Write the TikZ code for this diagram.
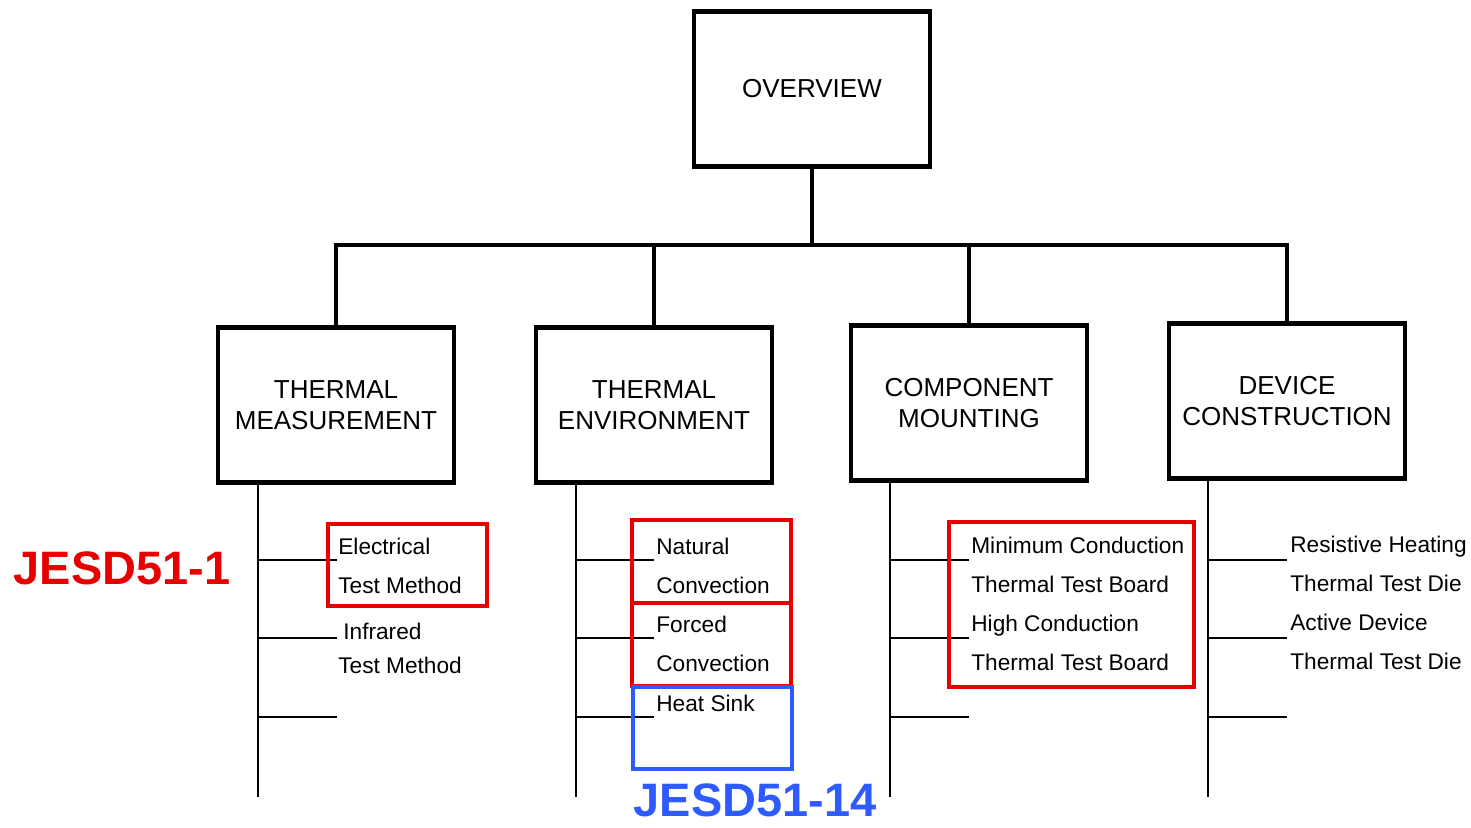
\documentclass[tikz,border=0pt]{standalone}
\usepackage{fontspec}
\setmainfont{Liberation Sans}
\usepackage{xcolor}
\usetikzlibrary{positioning,calc}
\definecolor{MarkRed}{HTML}{E60000}
\definecolor{MarkBlue}{HTML}{2D5BFF}
\tikzset{
  topic/.style={draw=black, line width=2.3pt, minimum width=4.72cm, minimum height=3.1cm, align=center, inner sep=4pt, font=\fontsize{14.8}{17.6}\selectfont},
  leaf/.style={anchor=west, align=left, inner sep=0pt, font=\fontsize{12.9}{22.2}\selectfont},
  trunk/.style={line width=2.3pt, draw=black},
  spine/.style={line width=0.9pt, draw=black},
  twig/.style={line width=0.8pt, draw=black},
  redmark/.style={draw=MarkRed, line width=2.3pt},
  bluemark/.style={draw=MarkBlue, line width=2.3pt},
  tag/.style={inner sep=0pt, font=\fontsize{26.7}{30}\selectfont\bfseries}
}

\begin{document}
\begin{tikzpicture}[x=0.02cm, y=-0.02cm]
\useasboundingbox (0,0) rectangle (1471,828);

% top of the tree
\node[topic] (overview) at (812,89) {OVERVIEW};
\node[topic] (tm) at (336,405) {THERMAL\\MEASUREMENT};
\node[topic] (te) at (654,405) {THERMAL\\ENVIRONMENT};
\node[topic] (cm) at (969,403) {COMPONENT\\MOUNTING};
\node[topic] (dc) at (1287,401) {DEVICE\\CONSTRUCTION};

\coordinate (bus) at (812,245);
\draw[trunk] (overview.south) -- (bus);
\draw[trunk] (tm.north) |- (bus) -| (dc.north);
\draw[trunk] (te.north) -- (te.north |- bus);
\draw[trunk] (cm.north) -- (cm.north |- bus);

% spines and branches
\foreach \col/\sx/\ex in {tm/258/337, te/576/654, cm/890/969, dc/1208/1287} {
  \draw[spine] (\col.south -| \sx,0) -- (\sx,797);
  \foreach \by in {560,638,717}
    \draw[twig] (\sx,\by) -- (\ex,\by);
}

% leaf texts
\node[leaf] (tm1) at (338,566) {Electrical\\Test Method};
\node[leaf] (tm2) at (338,648) {\hspace*{0.1cm}Infrared\\[-0.1cm]Test Method};
\node[leaf] (te1) at (656,566) {Natural\\Convection};
\node[leaf] (te2) at (656,644) {Forced\\Convection};
\node[leaf] (te3) at (656,703) {Heat Sink};
\node[leaf] (cm1) at (971,565) {Minimum Conduction\\Thermal Test Board};
\node[leaf] (cm2) at (971,643) {High Conduction\\Thermal Test Board};
\node[leaf] (dc1) at (1290,564) {Resistive Heating\\Thermal Test Die};
\node[leaf] (dc2) at (1290,642) {Active Device\\Thermal Test Die};

% standard markers
\draw[redmark] (328,524) rectangle (487,606);
\draw[redmark] (632,520) rectangle (791,603);
\draw[redmark] (632,603) rectangle (791,686);
\draw[bluemark] (633,687) rectangle (792,769);
\draw[redmark] (949,522) rectangle (1194,687);

\node[tag, text=MarkRed] (jesd1) at (122,568) {JESD51-1};
\node[tag, text=MarkBlue] (jesd14) at (755,800) {JESD51-14};
\end{tikzpicture}
\end{document}
